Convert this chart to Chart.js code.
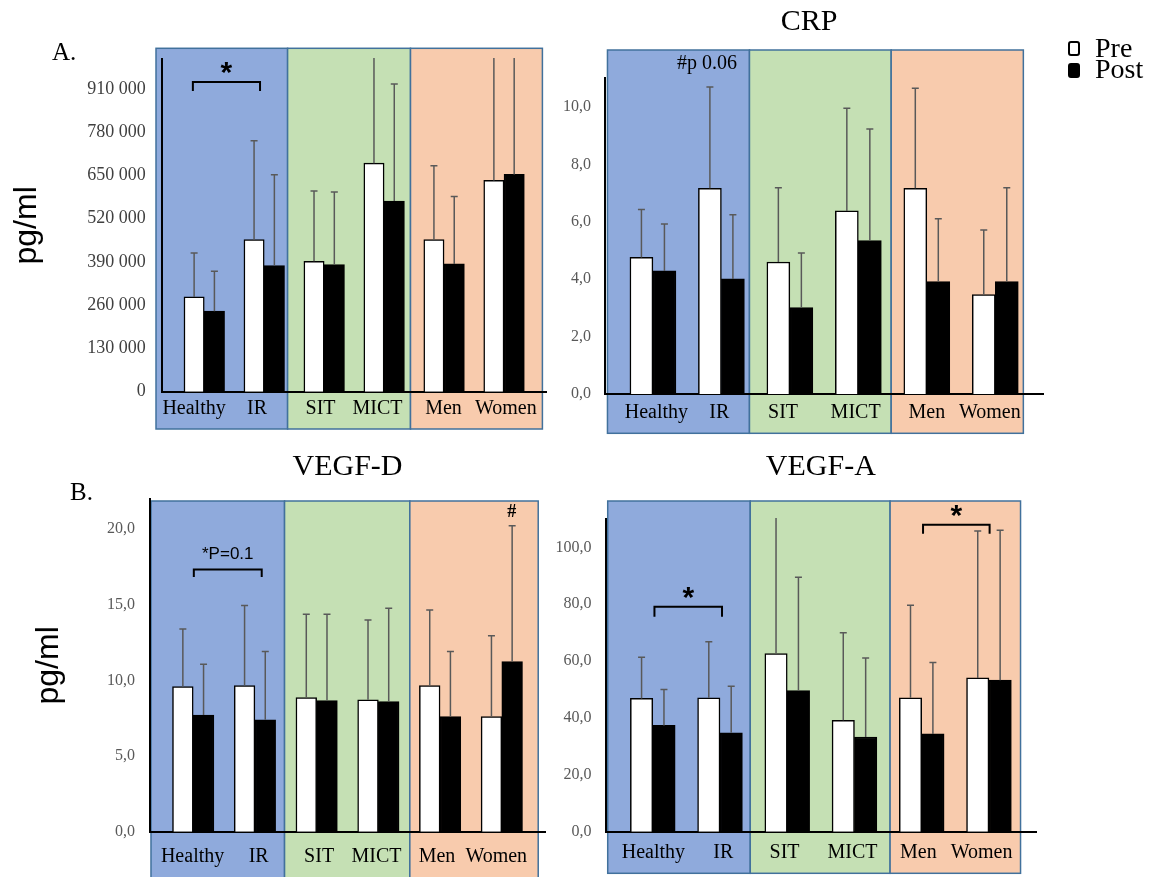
<!DOCTYPE html>
<html lang="en">
<head>
<meta charset="utf-8">
<title>Pre / Post by group</title>
<script src="https://cdn.jsdelivr.net/npm/chart.js@4.4.1/dist/chart.umd.min.js"></script>
<style>
    html, body { margin: 0; padding: 0; background: #fff; }
    body {
        position: relative;
        width: 1151px;
        height: 877px;
        overflow: hidden;
        font-family: 'Liberation Serif', 'Times New Roman', serif;
    }
    .panel { position: absolute; }
    .legend { position: absolute; left: 1066px; top: 36.8px; }
    .legend__item {
        position: relative;
        height: 21.5px;
        line-height: 21.5px;
        font-size: 28px;
        padding-left: 29px;
        white-space: nowrap;
    }
    .legend__swatch {
        position: absolute;
        left: 1.5px;
        top: 4.5px;
        width: 12px;
        height: 15px;
        box-sizing: border-box;
        border: 2px solid #000;
        border-radius: 3px;
    }
</style>
</head>
<body>
<div class="panel" style="left:0;top:0;width:560px;height:440px"><canvas id="chartA"></canvas></div>
<div class="panel" style="left:540px;top:0;width:538.4px;height:440px"><canvas id="chartCrp"></canvas></div>
<div class="panel" style="left:0;top:440px;width:560px;height:437px"><canvas id="chartVegfD"></canvas></div>
<div class="panel" style="left:550px;top:440px;width:510px;height:437px"><canvas id="chartVegfA"></canvas></div>
<div class="legend" id="legend"></div>

<script>
const categories = ['Healthy', 'IR', 'SIT', 'MICT', 'Men', 'Women'];
const seriesNames = ['Pre', 'Post'];

// A. (pg/ml)
const aPre = [285000, 457000, 392000, 687000, 457000, 635000];
const aPost = [242000, 379000, 382000, 573000, 384000, 653000];
const aPreSd = [132000, 297000, 211000, 360000, 222000, 400000];
const aPostSd = [120000, 273000, 218000, 352000, 203000, 380000];
const aTicks = [0, 130000, 260000, 390000, 520000, 650000, 780000, 910000];
const aMax = 1000000;

// CRP
const crpPre = [4.76, 7.17, 4.60, 6.38, 7.17, 3.46];
const crpPost = [4.29, 4.01, 3.01, 5.35, 3.92, 3.92];
const crpPreSd = [1.67, 3.53, 2.59, 3.58, 3.48, 2.25];
const crpPostSd = [1.63, 2.24, 1.90, 3.88, 2.19, 3.27];
const crpTicks = [0, 2, 4, 6, 8, 10];
const crpMax = 11;

// VEGF-D
const vegfDPre = [9.60, 9.66, 8.87, 8.72, 9.66, 7.62];
const vegfDPost = [7.71, 7.40, 8.67, 8.61, 7.62, 11.25];
const vegfDPreSd = [3.81, 5.29, 5.51, 5.28, 5.00, 5.33];
const vegfDPostSd = [3.36, 4.51, 5.71, 6.16, 4.29, 8.98];
const vegfDTicks = [0, 5, 10, 15, 20];
const vegfDMax = 22;

// VEGF-A
const vegfAPre = [46.9, 47.1, 62.7, 39.2, 47.1, 54.1];
const vegfAPost = [37.4, 34.8, 49.6, 33.3, 34.4, 53.3];
const vegfAPreSd = [14.5, 19.7, 50.0, 30.8, 32.6, 51.7];
const vegfAPostSd = [12.6, 16.4, 39.9, 27.8, 25.1, 52.7];
const vegfATicks = [0, 20, 40, 60, 80, 100];
const vegfAMax = 110;

const seriesFills = ['#ffffff', '#000000'];
const groupFills = ['#8faadc', '#c5e0b4', '#f8cbad'];

const thousands = (v) => String(v).replace(/\B(?=(\d{3})+(?!\d))/g, ' ');
const oneDecimal = (v) => v.toFixed(1).replace('.', ',');

Chart.defaults.font.family = "'Liberation Serif', 'Times New Roman', serif";
Chart.defaults.color = '#000';

// coloured group boxes, error bars and the little significance marks
const panelDecor = (p) => ({
    id: 'panelDecor',
    beforeDraw(chart) {
        const { ctx, chartArea, scales: { x } } = chart;
        const top = chartArea.top - p.boxAbove;
        const bottom = chartArea.bottom + p.boxBelow;
        ctx.save();
        ctx.lineWidth = 1.5;
        ctx.strokeStyle = '#41719c';
        groupFills.forEach((fill, i) => {
            const left = x.getPixelForValue(p.boxEdges[i]);
            const right = x.getPixelForValue(p.boxEdges[i + 1]);
            ctx.fillStyle = fill;
            ctx.fillRect(left, top, right - left, bottom - top);
            ctx.strokeRect(left, top, right - left, bottom - top);
        });
        ctx.restore();
    },
    afterDatasetsDraw(chart) {
        const { ctx, chartArea, scales: { y } } = chart;
        ctx.save();
        ctx.beginPath();
        ctx.rect(chartArea.left, chartArea.top - 1, chartArea.width, chartArea.height + 1);
        ctx.clip();
        ctx.strokeStyle = '#595959';
        ctx.lineWidth = 1.5;
        chart.data.datasets.forEach((ds, di) => {
            chart.getDatasetMeta(di).data.forEach((bar, i) => {
                const yTop = y.getPixelForValue(ds.data[i].y + ds.errors[i]);
                ctx.beginPath();
                ctx.moveTo(bar.x, bar.y);
                ctx.lineTo(bar.x, yTop);
                ctx.moveTo(bar.x - 3.5, yTop);
                ctx.lineTo(bar.x + 3.5, yTop);
                ctx.stroke();
            });
        });
        ctx.restore();
    },
    afterDraw(chart) {
        const { ctx, scales: { x, y } } = chart;
        ctx.save();
        ctx.fillStyle = '#000';
        ctx.strokeStyle = '#000';
        ctx.lineWidth = 2;
        (p.notes || []).forEach((n) => {
            if (n.kind === 'letter') {
                ctx.font = "25px 'Liberation Serif'";
                ctx.textAlign = 'left';
                ctx.textBaseline = 'alphabetic';
                ctx.fillText(n.text, n.left, n.baseline);
                return;
            }
            ctx.textAlign = 'center';
            ctx.textBaseline = 'middle';
            ctx.font = n.font;
            if (n.kind === 'bracket') {
                const x1 = x.getPixelForValue(n.from);
                const x2 = x.getPixelForValue(n.to);
                const yb = y.getPixelForValue(n.at);
                ctx.beginPath();
                ctx.moveTo(x1, yb + n.leg);
                ctx.lineTo(x1, yb);
                ctx.lineTo(x2, yb);
                ctx.lineTo(x2, yb + n.leg);
                ctx.stroke();
                ctx.fillText(n.text, (x1 + x2) / 2, yb - n.gap);
            } else {
                ctx.fillText(n.text, x.getPixelForValue(n.x), y.getPixelForValue(n.at));
            }
        });
        ctx.restore();
    },
});

const starFont = "bold 30px 'Liberation Sans'";

const panels = [
    {
        id: 'chartA', pre: aPre, post: aPost, preSd: aPreSd, postSd: aPostSd,
        ticks: aTicks, max: aMax, fmt: thousands,
        padding: { left: 0, top: 59, right: 14, bottom: 0 },
        yWidth: 162.3, xHeight: 48.3, yPad: 16.6, xPad: 4.6,
        tickSize: 18, tickColor: '#404040', bar: 20.3,
        yTitlePad: 7.5,
        boxEdges: [0.195, 2.39, 4.44, 6.64], boxAbove: 10.7, boxBelow: 37.3,
        labelPos: [0.83, 1.88, 2.94, 3.89, 4.99, 6.03],
        notes: [
            { kind: 'letter', text: 'A.', left: 52, baseline: 60 },
            { kind: 'bracket', from: 0.81, to: 1.93, at: 931000, leg: 9, text: '*', font: starFont, gap: 8 },
        ],
    },
    {
        id: 'chartCrp', pre: crpPre, post: crpPost, preSd: crpPreSd, postSd: crpPostSd,
        ticks: crpTicks, max: crpMax, fmt: oneDecimal,
        padding: { left: 0, top: 0, right: 0, bottom: 0 },
        yWidth: 65, xHeight: 46, yPad: 14, xPad: 6.3, rightGap: 35.2,
        tickSize: 16, tickColor: '#595959', bar: 23,
        title: 'CRP', titleFull: true, titlePad: { top: 3.7, bottom: 38.6 },
        boxEdges: [0.336, 2.41, 4.48, 6.41], boxAbove: 28.3, boxBelow: 39.3,
        labelPos: [1.05, 1.97, 2.90, 3.96, 5.00, 5.92],
        notes: [
            { kind: 'text', x: 1.79, at: 11.52, text: '#p 0.06', font: "20px 'Liberation Serif'" },
        ],
    },
    {
        id: 'chartVegfD', pre: vegfDPre, post: vegfDPost, preSd: vegfDPreSd, postSd: vegfDPostSd,
        ticks: vegfDTicks, max: vegfDMax, fmt: oneDecimal,
        padding: { left: 0, top: 0, right: 15, bottom: 0 },
        yWidth: 150, xHeight: 45.3, yPad: 15, xPad: 13,
        tickSize: 16, tickColor: '#595959', bar: 20.7,
        yTitlePad: 30,
        title: 'VEGF-D', titleFull: false, titlePad: { top: 8.7, bottom: 14.3 },
        boxEdges: [0.316, 2.48, 4.51, 6.59], boxAbove: -2, boxBelow: 60,
        labelPos: [0.99, 2.06, 3.04, 3.97, 4.95, 5.91],
        notes: [
            { kind: 'letter', text: 'B.', left: 70, baseline: 60 },
            { kind: 'bracket', from: 1.01, to: 2.11, at: 17.33, leg: 7.4, text: '*P=0.1', font: "17px 'Liberation Sans'", gap: 15.8 },
            { kind: 'text', x: 6.16, at: 21.14, text: '#', font: "bold 18px 'Liberation Serif'" },
        ],
    },
    {
        id: 'chartVegfA', pre: vegfAPre, post: vegfAPost, preSd: vegfAPreSd, postSd: vegfAPostSd,
        ticks: vegfATicks, max: vegfAMax, fmt: oneDecimal,
        padding: { left: 0, top: 0, right: 24, bottom: 0 },
        yWidth: 55.7, xHeight: 45.3, yPad: 14.3, xPad: 8.6,
        tickSize: 16, tickColor: '#595959', bar: 22.4,
        title: 'VEGF-A', titleFull: false, titlePad: { top: 8.7, bottom: 34.3 },
        boxEdges: [0.33, 2.45, 4.53, 6.47], boxAbove: 18, boxBelow: 41.6,
        labelPos: [1.01, 2.05, 2.96, 3.97, 4.95, 5.89],
        notes: [
            { kind: 'bracket', from: 1.025, to: 2.03, at: 79.1, leg: 10, text: '*', font: starFont, gap: 8 },
            { kind: 'bracket', from: 5.02, to: 6.01, at: 108.0, leg: 9, text: '*', font: starFont, gap: 8 },
        ],
    },
];

function buildChart(p) {
    const toPoints = (values) => values.map((v, i) => ({ x: i + 1, y: v }));
    const makeSet = (k, values, errors) => ({
        label: seriesNames[k],
        data: toPoints(values),
        errors,
        backgroundColor: seriesFills[k],
        borderColor: '#000',
        borderWidth: 1.5,
        barThickness: p.bar,
    });

    const scales = {
        x: {
            type: 'linear',
            min: 0.3,
            max: 6.7,
            offset: false,
            afterBuildTicks: (s) => { s.ticks = p.labelPos.map((value) => ({ value })); },
            afterFit: (s) => { s.height = p.xHeight; },
            grid: { display: false, drawTicks: false },
            border: { display: true, color: '#000', width: 2 },
            ticks: {
                autoSkip: false,
                maxRotation: 0,
                padding: p.xPad,
                color: '#000',
                font: { size: 20 },
                callback: (v, i) => categories[i],
            },
        },
        y: {
            min: 0,
            max: p.max,
            afterBuildTicks: (s) => { s.ticks = p.ticks.map((value) => ({ value })); },
            afterFit: (s) => { s.width = p.yWidth; },
            grid: { display: false, drawTicks: false },
            border: { display: true, color: '#000', width: 2 },
            ticks: {
                autoSkip: false,
                padding: p.yPad,
                color: p.tickColor,
                font: { size: p.tickSize },
                callback: (v) => p.fmt(v),
            },
            title: {
                display: p.yTitlePad !== undefined,
                text: 'pg/ml',
                color: '#000',
                font: { family: "'Liberation Sans', Arial, sans-serif", size: 32 },
                padding: { top: p.yTitlePad || 0, bottom: 0 },
            },
        },
    };

    // empty spacer on the right so the full-width title sits where the figure has it
    if (p.rightGap) {
        scales.gap = {
            position: 'right',
            afterFit: (s) => { s.width = p.rightGap; },
            grid: { display: false, drawTicks: false },
            border: { display: false },
            ticks: { display: false },
        };
    }

    return new Chart(document.getElementById(p.id), {
        type: 'bar',
        data: {
            datasets: [
                makeSet(0, p.pre, p.preSd),
                makeSet(1, p.post, p.postSd),
            ],
        },
        options: {
            responsive: true,
            maintainAspectRatio: false,
            animation: false,
            events: [],
            layout: { padding: p.padding },
            plugins: {
                legend: { display: false },
                tooltip: { enabled: false },
                title: {
                    display: Boolean(p.title),
                    text: p.title || '',
                    fullSize: Boolean(p.titleFull),
                    color: '#000',
                    font: { size: 30, weight: 'normal' },
                    padding: p.titlePad || 0,
                },
            },
            scales,
        },
        plugins: [panelDecor(p)],
    });
}

document.addEventListener('DOMContentLoaded', () => {
    panels.forEach(buildChart);

    const legend = document.getElementById('legend');
    seriesNames.forEach((name, i) => {
        const item = document.createElement('div');
        item.className = 'legend__item';
        const swatch = document.createElement('span');
        swatch.className = 'legend__swatch';
        swatch.style.background = seriesFills[i];
        item.append(swatch, name);
        legend.append(item);
    });
});
</script>
</body>
</html>
